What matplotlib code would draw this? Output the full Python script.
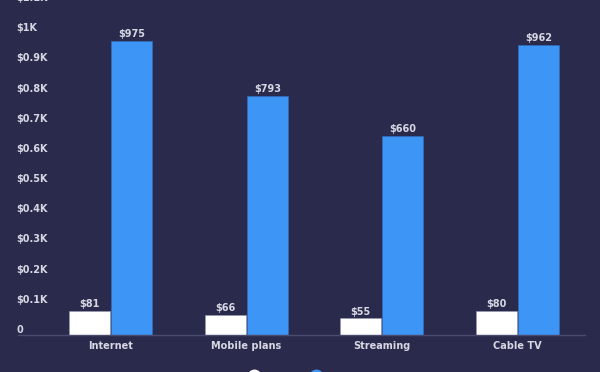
import matplotlib.pyplot as plt
import numpy as np

categories = ['Internet', 'Mobile plans', 'Streaming', 'Cable TV']
monthly = [81, 66, 55, 80]
yearly = [975, 793, 660, 962]
series_names = ['Monthly', 'Yearly']
yticks = [0, 100, 200, 300, 400, 500, 600, 700, 800, 900, 1000, 1100]
ytick_labels = ['0', '$0.1K', '$0.2K', '$0.3K', '$0.4K', '$0.5K', '$0.6K',
                '$0.7K', '$0.8K', '$0.9K', '$1K', '$1.1K']

BG = '#2a2b4c'
BLUE = '#3d95f5'
TEXT = '#d6d7e2'


def main():
    fig = plt.figure(figsize=(6, 3.72), dpi=100, facecolor=BG)
    ax = fig.add_axes([0.03, 0.0995, 0.945, 0.8925], facecolor=BG)
    x = np.arange(len(categories))
    w = 0.3
    b1 = ax.bar(x - 0.155, monthly, w, color='white', edgecolor='#9a9ab0',
                linewidth=0.4, label=series_names[0])
    b2 = ax.bar(x + 0.155, yearly, w, color=BLUE, edgecolor='#2f6fc0',
                linewidth=0.4, label=series_names[1])
    for bars in (b1, b2):
        for r in bars:
            ax.text(r.get_x() + r.get_width() / 2, r.get_height() + 6,
                    '$%d' % r.get_height(), ha='center', va='bottom',
                    color=TEXT, fontsize=7, fontweight='bold')

    ax.set_ylim(0, 1100)
    ax.set_xlim(-0.5 - 25 / 135.5, 3.5)
    ax.set_xticks(x)
    ax.set_xticklabels(categories, color=TEXT, fontsize=7, fontweight='bold')
    ax.set_yticks(yticks)
    ax.set_yticklabels(ytick_labels, color=TEXT, fontsize=7, fontweight='bold')
    ax.tick_params(axis='y', length=0, pad=1, direction='in')
    ax.tick_params(axis='x', length=0, pad=4)
    for lab in ax.get_yticklabels():
        lab.set_horizontalalignment('left')
        lab.set_verticalalignment('bottom')
    for s in ['top', 'right', 'left']:
        ax.spines[s].set_visible(False)
    ax.spines['bottom'].set_color('#4a4b6e')
    ax.spines['bottom'].set_linewidth(1)

    # legend sits mostly below the canvas, only the circle tops show
    h = [plt.Line2D([], [], marker='o', ls='', markersize=9, color='white'),
         plt.Line2D([], [], marker='o', ls='', markersize=9, color=BLUE)]
    fig.legend(h, series_names, loc='upper center', bbox_to_anchor=(0.5, 0.014),
               ncol=2, frameon=False, labelcolor=TEXT, fontsize=7,
               handletextpad=0.1, columnspacing=0.2, borderpad=0)
    fig.savefig('out.png', dpi=100, facecolor=BG)


if __name__ == '__main__':
    main()
